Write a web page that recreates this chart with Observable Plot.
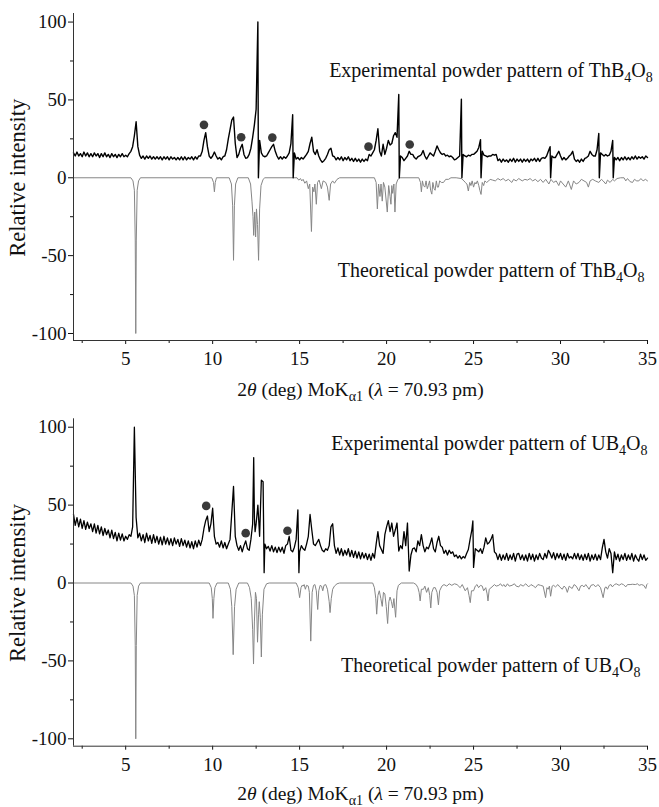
<!DOCTYPE html>
<html><head><meta charset="utf-8">
<script src="https://cdn.jsdelivr.net/npm/d3@7"></script>
<script src="https://cdn.jsdelivr.net/npm/@observablehq/plot@0.6"></script>
<style>
body{margin:0;background:#fff;}
#chart{width:659px;}
#chart svg{display:block;}
#chart svg, #chart svg text, #chart svg g{font-family:"Liberation Serif","Times New Roman",serif !important;}
</style></head><body><div id="chart"></div>
<script>
// ---- tick values ----
const xTicksMajor = [5,10,15,20,25,30,35];
const xTicksMinor = [2.5,7.5,12.5,17.5,22.5,27.5,32.5];
const yTicksMajor = [-100,-50,0,50,100];
const yTicksMinor = [-75,-25,25,75];

// ---- experimental patterns sampled every 0.1 deg from 2.0 to 35.0 ----
const gridStart = 2, gridStep = 0.1;
const expThY = [
16,14,16.5,14,15.5,13.5,16.5,14,16,13.5,
15.5,13.5,16,14,15.5,13,15.5,13.5,16,13.5,
15,13,15.5,13.5,15,13,15,13.5,15.5,13.5,
14.5,13.5,15.5,17,20,27,36,20,14.5,12.5,
14,12,14,12.5,14,12,13.5,12,13.5,12,
13.5,11.5,13.5,12,13.5,11.5,13.5,12,13,11.5,
13,11.5,13.5,11.5,13.5,11.5,13,12,13.5,11.5,
13.5,12,14,14,17,24,29,20,14,12.5,
14,16.5,14,12,13,11.5,13.5,14,18,25,
31,37,39,22,13,15,19,21.5,15,12.5,
13,15,19,26,34,44,100,24,16,14,
13.5,14,16,18,20,21.5,17,14,12,13.5,
12,13.5,12.5,14,16,22,40.5,16,12,13,
11.5,13,12,13.5,15,17,22,26,17,15,
18,14,11.5,10,11,12.5,15,18,19,14,
13.5,11.5,13,11.5,13.5,11,13,11.5,13.5,11,
12.5,10.5,12.5,10.5,12,10,12,10.5,12,11,
15,14,16,18,24,31.5,17,14,21.5,15,
19,24,21,22,27,29,26,53.5,14,13,
11,12.5,14,17,15,15,13,12,13.5,14,
15,17.5,14,12,14,16,15,14,17,20.5,
18,16,15,15.5,14,14.5,13.5,14,13,11.5,
12,13,14,50.5,15,14,13.5,14.5,14,15,
15,16,17,19.5,24.5,17,14.5,14,13.5,14,
14,15,14.5,15,11,12,10,12,10.5,11.5,
10,12,10.5,12.5,10,12,10.5,12,10,12,
10.5,12,10,12,11,12.5,10.5,12.5,10.5,12.5,
13,12.5,14,17,20,14,13,13,15,17,
14,11.5,13,11.5,12.5,14,15,17,12,10.5,
11.5,10,12,10.5,12.5,13,14,17,15,14,
14,18,28.5,16,15,14,15,14,14.5,17,
24,13,11.5,13,11,13,11.5,13.5,11.5,13,
11.5,13.5,12,14,12,13.5,12.5,13.5,12,14,
13];
const expThSpikes = [[12.63,0],[14.63,0],[20.73,0],[24.33,0],[25.43,0],[29.43,0],[32.23,0],[33.03,0]];

const expUBY = [
44,37,42,36,41,35,40,34.5,39,35,
38,33,38,32,37,31.5,36,30.5,35,31,
34,29,34,28.5,32.5,27,32,27.5,31.5,27,
30,28,31,30,36,100,42,29,32,27,
31,26,32,27,30.5,25.5,31,26,30,25,
29.5,24.5,30,25,29,24.5,28.5,24,29,25,
28,23.5,28.5,24,27.5,23,27,22.5,26.5,22,
27,23,27.5,24,28,35,40,43,33,38,
48,30,25,26,23,27,22.5,26,22,25,
28,45,62,30,24,21,24,20,24,27,
22,21,28,38,42,38,50,30,66,65,
25,22,23.5,20.5,24,20,23,19.5,23,20,
23,19,24,25,30,21,20,23,28,47,
20,24,22,21,25,30,44,34,25,24,
26,28,24,21,20,22,21,24,36,38,
24,19,22.5,18,22,17.5,21,18,22,17,
21,16.5,20.5,16,20,15.5,19.5,16,19,15,
18.5,14.5,19,16,25,33,24,21.5,19,31,
36,40,33,38.5,30,34,38.5,20.5,24,22,
33,24,38.5,7.7,18,22,22.5,20,27,24,
31,24,20,23,22,25,29,22,20,26,
30,24,23,19,21,18,21,19,20,17,
18,16,17.5,15.5,17,16,19,21.5,28,34,
10,22,21,20,22,19,23,29,25,26,
28,31,20,18.8,15,18.5,14.5,18,15,19,
14.5,18,15,19,14,18.5,19,15,18,14.5,
18,14,19,15,18.5,14,18,15,19,16,
15,19,16,21,19,16,19.5,15,19,16,
19,15,18.5,14.5,19,16,17,15.5,19,15.5,
19,15,18,14.5,18.5,15,19,14,18,15,
18.5,14.5,18,15,22.5,28,20,16,22,19,
6.6,20,15,18.5,14,18,15,19,14.5,18,
15,19,14,18,15.5,14,18.5,15,18,14.5,
16];
const expUBSpikes = [[12.36,80.5],[12.44,33],[12.96,6.6],[14.96,6.6],[24.96,39.8]];

// ---- theoretical patterns (2θ, negative relative intensity) ----
const theoTh = [[2,0],[5.3,0],[5.42,-2],[5.5,-8],[5.55,-40],[5.58,-100],[5.61,-40],[5.66,-8],[5.74,-2],[5.85,0],
[9.95,0],[10.05,-3],[10.1,-9],[10.15,-3],[10.22,0],
[10.95,0],[11.08,-4],[11.15,-18],[11.2,-53],[11.25,-18],[11.32,-4],[11.45,0],
[12.05,0],[12.18,-4],[12.26,-15],[12.32,-25],[12.36,-37],[12.42,-22],[12.47,-38],[12.52,-20],[12.58,-30],[12.64,-53],[12.7,-20],[12.78,-5],[12.9,-1],[13.0,0],
[14.85,0],[14.95,-1.5],[15.05,-0.5],[15.12,-2],[15.2,-1],[15.3,-3.5],[15.4,-2],[15.5,-7],[15.58,-4],[15.68,-34.5],[15.75,-6],[15.82,-9],[15.88,-4],[15.96,-17],[16.03,-3],[16.12,-1.5],[16.25,-7],[16.35,-2],[16.5,-3],[16.6,-6],[16.7,-14.5],[16.78,-4],[16.9,-2],[17.0,-3.5],[17.15,-1],[17.3,0],
[19.3,0],[19.4,-3],[19.47,-20],[19.54,-4],[19.62,-12],[19.68,-4],[19.75,-15],[19.82,-3],[19.9,-6],[20.04,-22],[20.12,-5],[20.2,-12],[20.25,-17],[20.3,-5],[20.35,-10],[20.42,-4],[20.48,-22],[20.55,-4],[20.65,-1],[20.77,0],
[21.85,0],[21.95,-3],[22.0,-9],[22.06,-2],[22.12,-5],[22.2,-6],[22.27,-2],[22.34,-7],[22.4,-5],[22.47,-2],[22.53,-8],[22.6,-10.5],[22.66,-3],[22.73,-7],[22.79,-8],[22.86,-2],[22.92,-6],[22.98,-6],[23.05,-2],[23.15,-3],[23.27,-3],[23.4,-1],[23.56,-1],[23.7,0],
[24.0,0],[24.3,-0.5],[24.45,-2],[24.52,-3],[24.62,-4],[24.7,-8.5],[24.78,-3],[24.85,-5],[24.92,-2],[25.0,-6],[25.08,-3],[25.14,-4],[25.22,-2],[25.3,-5],[25.36,-8],[25.43,-10.7],[25.5,-3],[25.58,-5],[25.65,-2],[25.75,-3],[25.87,-2],[25.95,-1],[26.1,-1.5],[26.25,-2],[26.4,-0.5],[26.55,-1.5],[26.7,-0.5],[26.85,-2],[27.0,-1],[27.2,-3],[27.3,-1],[27.45,-2],[27.6,-0.5],[27.8,-2],[27.95,-1],[28.1,-1.5],[28.25,-0.5],[28.4,-2],[28.55,-1],[28.7,-2.5],[28.85,-1],[29.0,-3],[29.15,-1],[29.33,-4],[29.45,-1],[29.6,-3],[29.75,-2],[29.9,-5],[30.0,-2],[30.15,-4],[30.3,-6],[30.45,-2],[30.62,-7.5],[30.75,-2],[30.9,-4],[31.06,-3],[31.2,-1],[31.35,-2],[31.5,-3],[31.6,-6],[31.7,-2],[31.85,-1],[32.0,-2],[32.2,-3],[32.35,-1],[32.45,-2],[32.6,-4],[32.7,-1.5],[32.85,-3],[33.0,-1],[33.1,-2],[33.25,-0.5],[33.45,0],[33.65,0],[33.75,-2],[33.85,-0.5],[34.0,-2.5],[34.14,-3],[34.25,-1],[34.38,-2],[34.5,-2],[34.62,-0.5],[34.75,-2],[34.88,-1],[35,-2]];

const theoUB = [[2,0],[5.3,0],[5.42,-2],[5.5,-8],[5.55,-40],[5.58,-100],[5.61,-40],[5.66,-8],[5.74,-2],[5.85,0],
[9.8,0],[9.92,-3],[9.98,-10],[10.02,-22.7],[10.07,-10],[10.13,-3],[10.25,0],
[10.9,0],[11.02,-4],[11.1,-15],[11.18,-46],[11.26,-15],[11.35,-4],[11.5,0],
[12.0,0],[12.12,-3],[12.22,-10],[12.3,-30],[12.35,-52],[12.4,-25],[12.46,-6],[12.52,-10],[12.58,-38],[12.64,-20],[12.68,-12],[12.74,-22],[12.8,-47.5],[12.86,-20],[12.95,-4],[13.1,-0.5],[13.25,0],
[14.8,0],[14.92,-3],[15.0,-9.4],[15.08,-3],[15.14,-1.5],[15.2,-2],[15.26,-1],[15.33,-4],[15.4,-1.5],[15.5,-2],[15.56,-6],[15.64,-37.3],[15.72,-6],[15.8,-1.5],[15.88,-1],[15.96,-5],[16.04,-17],[16.1,-5],[16.18,-1.5],[16.26,-2],[16.33,-5],[16.4,-1.5],[16.5,-1],[16.6,-4],[16.7,-12],[16.75,-19],[16.82,-10],[16.9,-4],[17.0,-2],[17.15,-0.5],[17.3,0],
[19.2,0],[19.3,-3],[19.38,-10],[19.43,-20],[19.5,-8],[19.58,-5],[19.67,-10],[19.75,-15],[19.82,-6],[19.9,-7],[19.98,-15],[20.06,-26],[20.13,-12],[20.2,-9],[20.28,-12],[20.35,-16],[20.42,-10],[20.52,-22],[20.6,-5],[20.68,-1.5],[20.85,0],
[21.55,0],[21.7,-1],[21.8,-3],[21.87,-6],[21.93,-11.5],[22.0,-4],[22.12,-4],[22.2,-2],[22.3,-6],[22.4,-3],[22.48,-8],[22.54,-16],[22.6,-6],[22.7,-3],[22.8,-3],[22.9,-6],[22.98,-14],[23.05,-5],[23.18,-2],[23.3,-1],[23.46,-2],[23.6,-0.5],[23.75,-1.5],[23.9,-0.5],[24.05,-1],[24.23,-3],[24.35,-1],[24.52,-5],[24.65,-3],[24.74,-8],[24.81,-12.6],[24.88,-5],[25.0,-5],[25.1,-2],[25.2,-1],[25.29,-3],[25.4,-1.5],[25.5,-2],[25.58,-5],[25.7,-3],[25.78,-7],[25.83,-11.5],[25.9,-4],[26.06,-2.5],[26.2,-1],[26.3,-2],[26.45,-1.5],[26.55,-0.5],[26.65,-2],[26.75,-1],[26.83,-2.5],[26.95,-0.5],[27.05,-2],[27.21,-1.5],[27.35,-0.5],[27.45,-2],[27.6,-2.5],[27.7,-1],[27.85,-2],[28.0,-0.5],[28.17,-2.5],[28.3,-1],[28.45,-2],[28.56,-3],[28.7,-1],[28.85,-1.5],[29.0,-2],[29.14,-9.4],[29.22,-3],[29.29,-4],[29.36,-2],[29.43,-8.5],[29.52,-2],[29.6,-1.5],[29.71,-2.5],[29.85,-1],[29.95,-2.5],[30.1,-4],[30.2,-2],[30.3,-3],[30.39,-6],[30.5,-2],[30.6,-3],[30.67,-3.5],[30.78,-1],[30.9,-2],[31.0,-4],[31.06,-5],[31.15,-2],[31.25,-1.5],[31.35,-2.5],[31.45,-1],[31.55,-2.5],[31.64,-4],[31.75,-1.5],[31.9,-1],[32.02,-2.5],[32.15,-1],[32.3,-3],[32.45,-9.4],[32.55,-3],[32.62,-2.5],[32.7,-4],[32.8,-1.5],[32.9,-1],[32.98,-2.5],[33.1,-1],[33.2,-0.5],[33.37,-1.5],[33.5,-0.5],[33.62,-1],[33.75,-2.5],[33.85,-1],[34.0,-1],[34.14,-0.8],[34.3,-1],[34.42,-0.5],[34.52,-1.5],[34.65,-1],[34.78,-1.5],[34.9,-3.5],[34.96,-1],[35,-0.5]];

// ---- impurity markers ----
const dotsTh = [[9.5,34],[11.64,26],[13.43,25.8],[18.96,20],[21.33,21.4]];
const dotsUB = [[9.63,49.5],[11.9,32],[14.3,33.5]];

// ---- labels ----
const labelsTh = [
  {x:35.3, y:68.9, t:"Experimental powder pattern of ThB4O8"},
  {x:34.83, y:-59.6, t:"Theoretical powder pattern of ThB4O8"}];
const labelsUB = [
  {x:35.0, y:89.3, t:"Experimental powder pattern of UB4O8"},
  {x:34.6, y:-53.3, t:"Theoretical powder pattern of UB4O8"}];
const yLabel = "Relative intensity";
const xLabel = "2θ (deg) MoKα1 (λ = 70.93 pm)";

function buildExp(yvals, spikes){
  const pts = yvals.map((y,i)=>({x:+(gridStart+i*gridStep).toFixed(2), y}));
  spikes.forEach(([x,y])=>pts.push({x,y}));
  pts.sort((a,b)=>a.x-b.x);
  return pts;
}
const toObj = a => a.map(([x,y])=>({x,y}));

const FONT = "'Liberation Serif','Times New Roman',serif";

function panel({exp, theo, dots, labels, height, marginTop, marginBottom, yDomain, xLabelY, expWidth}){
  const p = Plot.plot({
    width:659, height, marginLeft:73, marginRight:12, marginTop, marginBottom,
    style:{fontFamily:FONT, fontSize:"19px", color:"#111", background:"white", overflow:"visible"},
    x:{domain:[2,35]}, y:{domain:yDomain},
    marks:[
      Plot.line(theo,{x:"x",y:"y",stroke:"#868686",strokeWidth:1}),
      Plot.line(exp,{x:"x",y:"y",stroke:"#000",strokeWidth:expWidth}),
      Plot.dot(dots,{x:"x",y:"y",r:4.3,fill:"#3a3a3a",stroke:null}),
      Plot.axisX({ticks:xTicksMajor, tickSize:4, tickPadding:7, fontSize:19, fontFamily:FONT, label:null, tickFormat:d=>String(d)}),
      Plot.axisX({ticks:xTicksMinor, tickSize:3, tickFormat:()=>"", label:null}),
      Plot.axisY({ticks:yTicksMajor, tickSize:5, tickPadding:2, fontSize:19, fontFamily:FONT, label:null, tickFormat:d=>String(d)}),
      Plot.axisY({ticks:yTicksMinor, tickSize:3, tickFormat:()=>"", label:null}),
      Plot.ruleX([2],{stroke:"#333"}),
      Plot.ruleY([yDomain[0]],{stroke:"#333"}),
      Plot.text(labels,{x:"x",y:"y",text:"t",textAnchor:"end",fontSize:20,fontFamily:FONT,fill:"#111"}),
      Plot.text([{x:-1.2,y:0,t:yLabel}],{x:"x",y:"y",text:"t",rotate:-90,fontSize:22.5,fontFamily:FONT,fill:"#111"}),
      Plot.text([{x:18.5,y:xLabelY,t:xLabel}],{x:"x",y:"y",text:"t",fontSize:19.5,fontFamily:FONT,fill:"#111"})
    ]
  });
  d3.select(p).selectAll("text").each(function(){
    const t = this.textContent;
    if (/B4O8$/.test(t)) {
      const pre = t.replace(/B4O8$/,"");
      this.innerHTML = pre + 'B<tspan dy="5" font-size="14">4</tspan><tspan dy="-5">O</tspan><tspan dy="5" font-size="14">8</tspan>';
    } else if (t === xLabel) {
      this.innerHTML = '2<tspan font-style="italic">θ</tspan> (deg) MoK<tspan dy="5" font-size="14">α1</tspan><tspan dy="-5"> (</tspan><tspan font-style="italic">λ</tspan> = 70.93 pm)';
    }
  });
  return p;
}

const chart = document.getElementById("chart");
chart.appendChild(panel({
  exp: buildExp(expThY, expThSpikes), theo: toObj(theoTh), dots: toObj(dotsTh), labels: labelsTh,
  height:390, marginTop:13, marginBottom:50, yDomain:[-104.5,105.5], xLabelY:-136, expWidth:1.4
}));
chart.appendChild(panel({
  exp: buildExp(expUBY, expUBSpikes), theo: toObj(theoUB), dots: toObj(dotsUB), labels: labelsUB,
  height:417, marginTop:28.3, marginBottom:61.3, yDomain:[-104.75,105.4], xLabelY:-135.5, expWidth:1.3
}));
</script></body></html>
